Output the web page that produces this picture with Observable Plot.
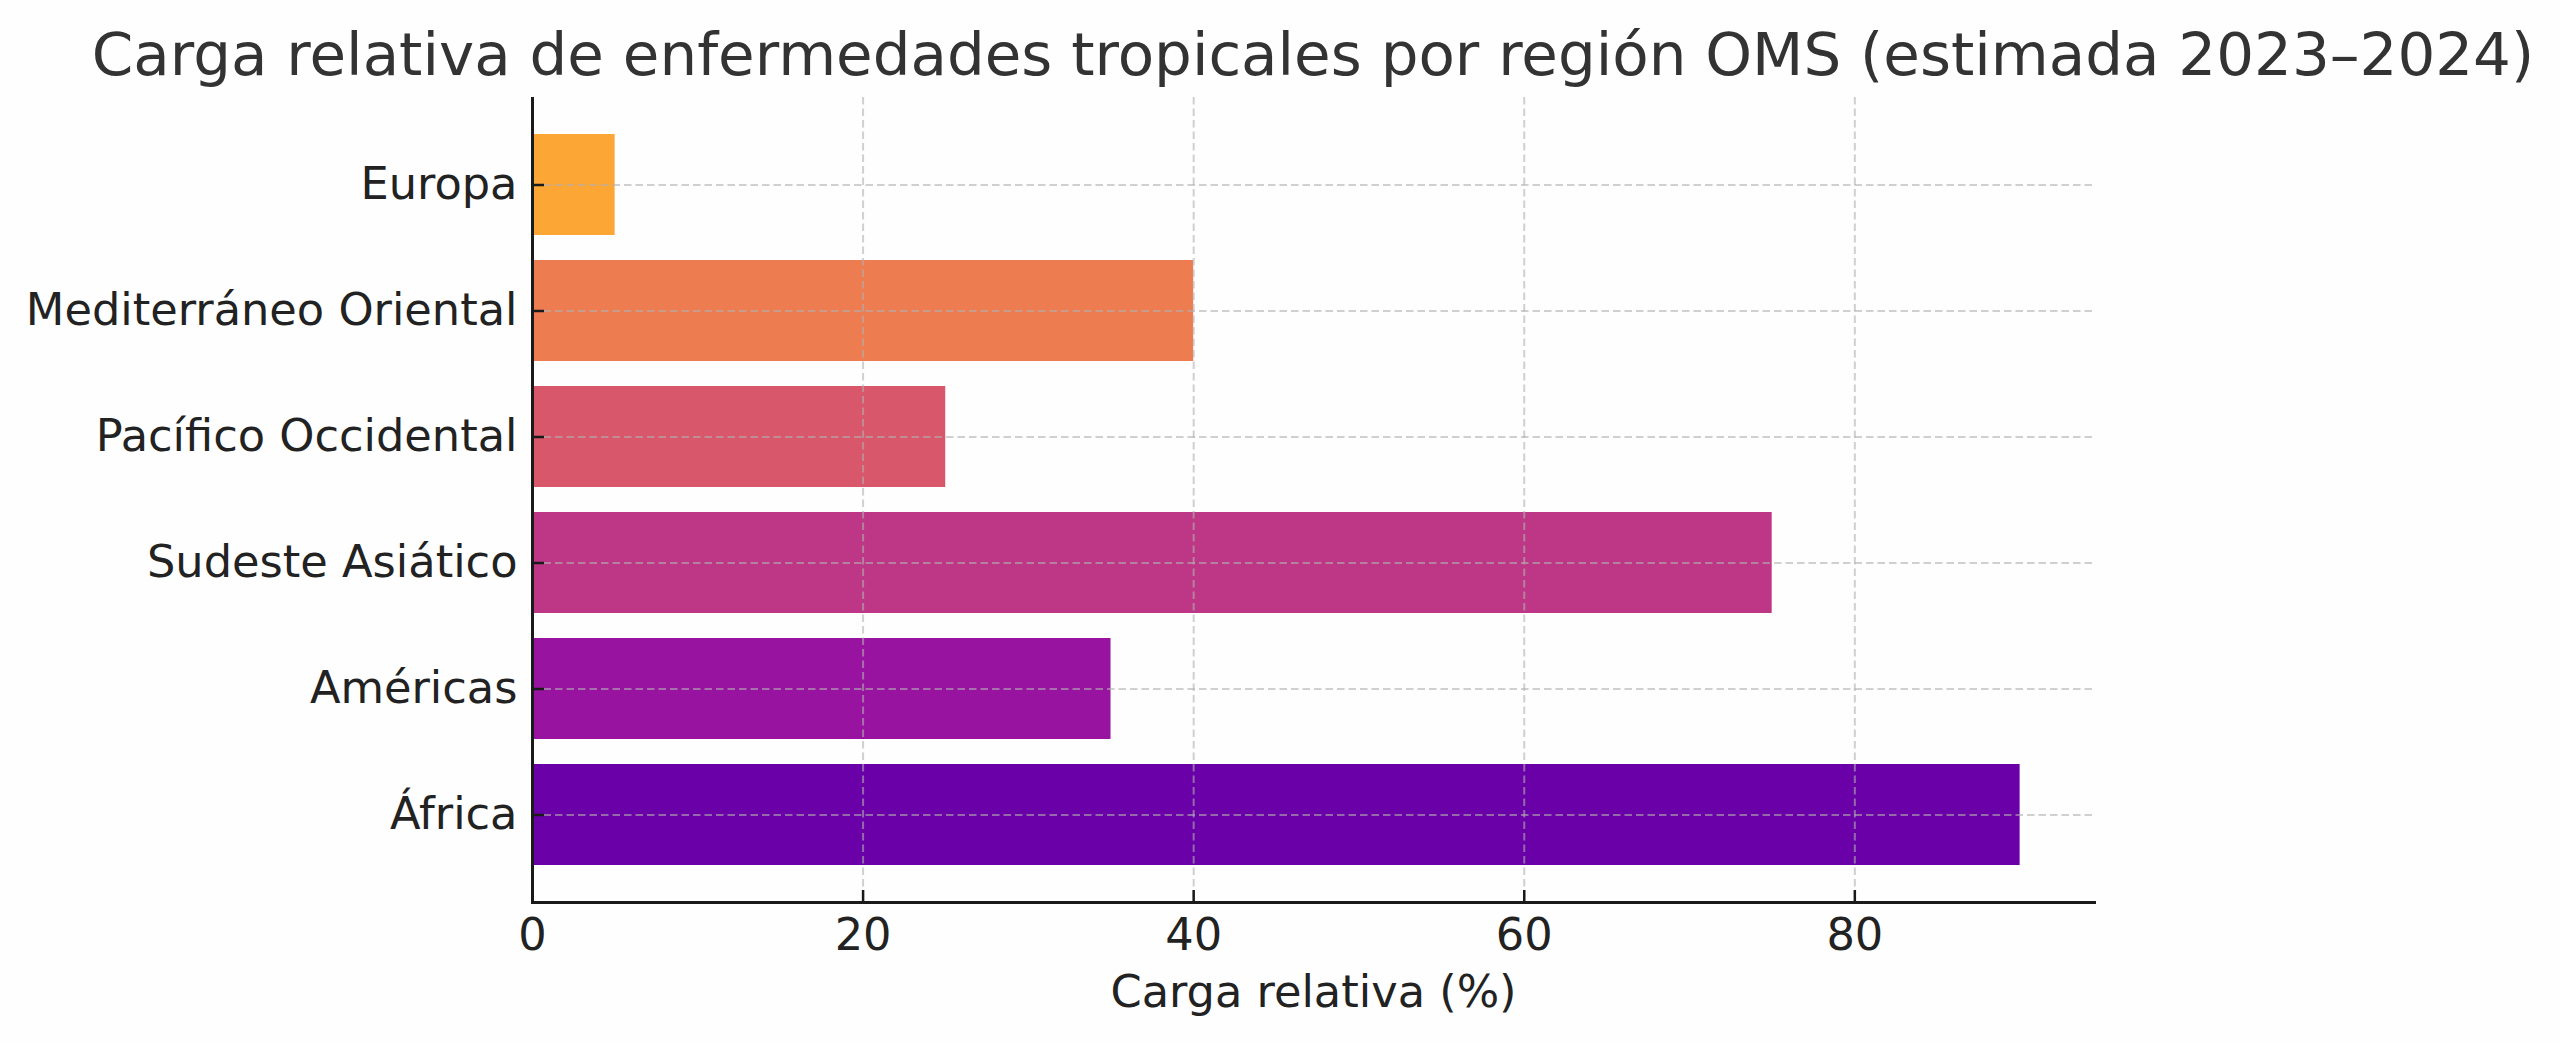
<!DOCTYPE html>
<html><head><meta charset="utf-8">
<script src="https://cdn.jsdelivr.net/npm/d3@7"></script>
<script src="https://cdn.jsdelivr.net/npm/@observablehq/plot@0.6"></script>
<style>
html,body{margin:0;padding:0;background:#fefefe;}
body{width:2560px;height:1043px;overflow:hidden;font-family:"DejaVu Sans",sans-serif;}
#title{position:relative;height:97px;}
#title div{position:absolute;left:0;width:2626px;text-align:center;top:25px;font-size:59.5px;line-height:1;color:#333;white-space:nowrap;}
</style></head><body>
<div id="title"><div id="ttext"></div></div>
<div id="chart"></div>
<script>
const titleText = "Carga relativa de enfermedades tropicales por región OMS (estimada 2023–2024)";
const xLabel = "Carga relativa (%)";
const regions = ["Europa", "Mediterráneo Oriental", "Pacífico Occidental", "Sudeste Asiático", "Américas", "África"];
const values = [5, 40, 25, 75, 35, 90];
const colors = ["#fca636", "#ee7c51", "#d8576b", "#bd3786", "#9814a0", "#6a00a8"];
const xTicks = [0, 20, 40, 60, 80];

document.getElementById("ttext").textContent = titleText;
const data = regions.map((r, i) => ({region: r, value: values[i], color: colors[i]}));
const gridStyle = {stroke: "#b0b0b0", strokeOpacity: 0.6, strokeWidth: 2, strokeDasharray: "7.5,4"};
const fs = 44.7;

const plot = Plot.plot({
  width: 2560, height: 946,
  marginTop: 0, marginLeft: 532, marginRight: 466, marginBottom: 141,
  style: {background: "transparent", fontFamily: "DejaVu Sans", fontSize: fs + "px", color: "#222"},
  x: {domain: [0, 94.5]},
  y: {domain: regions, paddingInner: 0.2, paddingOuter: 0.29, align: 0.5},
  color: {type: "identity"},
  marks: [
    Plot.barX(data, {x: "value", y: "region", fill: "color"}),
    Plot.gridX(xTicks, gridStyle),
    Plot.gridY(regions, gridStyle),
    Plot.frame({anchor: "left", stroke: "#1a1a1a", strokeWidth: 3}),
    Plot.frame({anchor: "bottom", stroke: "#1a1a1a", strokeWidth: 3}),
    Plot.axisX(xTicks, {tickSize: 12, dy: -12, tickFormat: () => "", label: null, strokeWidth: 2.5, stroke: "#1a1a1a"}),
    Plot.axisX(xTicks, {tickSize: 0, tickPadding: 16, label: null, fill: "#222", fontSize: fs}),
    Plot.axisY(regions, {tickSize: 12, dx: 12, tickFormat: () => "", label: null, strokeWidth: 2.5, stroke: "#1a1a1a"}),
    Plot.axisY(regions, {tickSize: 0, tickPadding: 15, label: null, fill: "#222", fontSize: fs}),
    Plot.text([xLabel], {text: d => d, frameAnchor: "bottom", dy: 73, lineAnchor: "top", fontSize: fs, fill: "#222"})
  ]
});
document.getElementById("chart").appendChild(plot);
</script>
</body></html>
